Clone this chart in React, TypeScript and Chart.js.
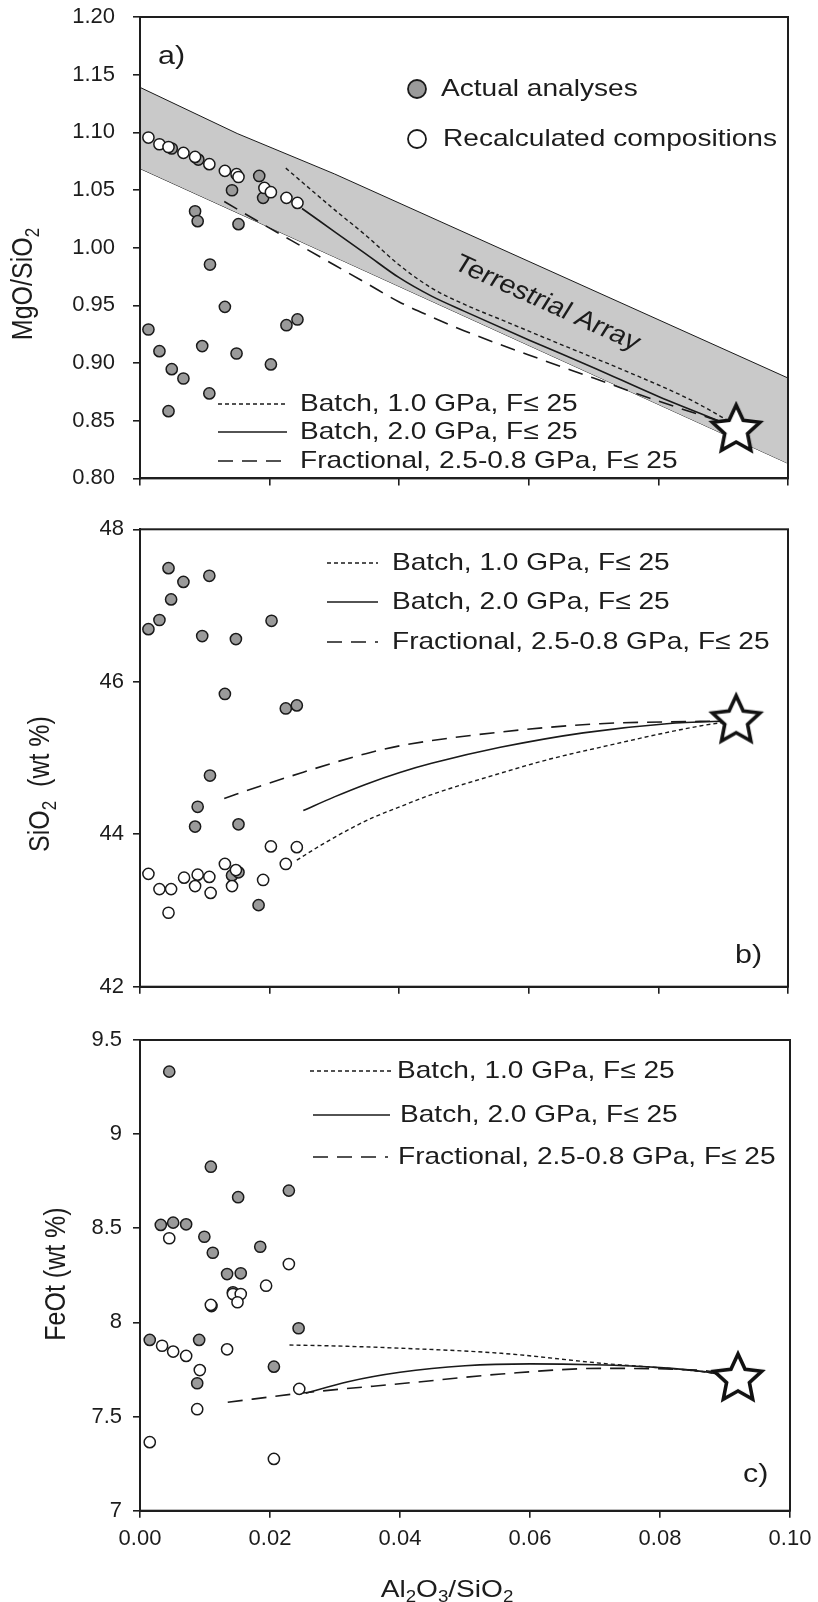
import React, { useEffect, useRef } from "react";
import { Chart, registerables } from "chart.js";

Chart.register(...registerables);

// ---------------- data ----------------
const X_TICKS = [0, 0.02, 0.04, 0.06, 0.08, 0.1];
const STAR_X = [0.092];

// Panel a) MgO/SiO2
const A_Y_TICKS = [0.8, 0.85, 0.9, 0.95, 1.0, 1.05, 1.1, 1.15, 1.2];
const A_ACTUAL_X = [0.009, 0.0049, 0.0142, 0.0184, 0.019, 0.0085, 0.0089, 0.0152, 0.0108, 0.0131, 0.0013, 0.0226, 0.0243, 0.003, 0.0096, 0.0149, 0.0049, 0.0067, 0.0202, 0.0107, 0.0044];
const A_ACTUAL_Y = [1.0764, 1.086, 1.0498, 1.0622, 1.0432, 1.0316, 1.023, 1.0204, 0.9854, 0.9487, 0.9291, 0.9328, 0.9378, 0.9103, 0.9147, 0.9083, 0.8947, 0.8866, 0.8988, 0.8737, 0.8583];
const A_RECALC_X = [0.0013, 0.003, 0.0044, 0.0067, 0.0085, 0.0107, 0.0131, 0.0149, 0.0152, 0.0192, 0.0202, 0.0226, 0.0243];
const A_RECALC_Y = [1.0955, 1.0897, 1.0873, 1.0822, 1.0787, 1.0724, 1.0666, 1.0637, 1.0613, 1.0518, 1.0481, 1.0432, 1.0388];
const A_BATCH1_X = [0.0225, 0.03, 0.035, 0.04, 0.045, 0.05, 0.056, 0.065, 0.075, 0.085, 0.092];
const A_BATCH1_Y = [1.069, 1.033, 1.01, 0.985, 0.965, 0.951, 0.937, 0.916, 0.893, 0.868, 0.846];
const A_BATCH2_X = [0.025, 0.03, 0.035, 0.04, 0.045, 0.05, 0.06, 0.07, 0.08, 0.092];
const A_BATCH2_Y = [1.034, 1.014, 0.994, 0.974, 0.958, 0.945, 0.92, 0.896, 0.871, 0.844];
const A_FRAC_X = [0.013, 0.02, 0.025, 0.03, 0.035, 0.04, 0.045, 0.05, 0.06, 0.07, 0.08, 0.092];
const A_FRAC_Y = [1.04, 1.017, 1.001, 0.985, 0.969, 0.953, 0.94, 0.928, 0.907, 0.887, 0.867, 0.845];
const A_STAR_Y = [0.842];
const ARRAY_X = [0, 0.015, 0.03, 0.1];
const ARRAY_UPPER = [1.139, 1.099, 1.064, 0.887];
const ARRAY_LOWER = [1.0686, 1.0303, 0.992, 0.813];

// Panel b) SiO2
const B_Y_TICKS = [42, 44, 46, 48];
const B_ACTUAL_X = [0.0044, 0.0067, 0.0107, 0.0048, 0.003, 0.0013, 0.0203, 0.0096, 0.0148, 0.0131, 0.0225, 0.0242, 0.0108, 0.0089, 0.0085, 0.0152, 0.0142, 0.0152, 0.0183];
const B_ACTUAL_Y = [47.49, 47.31, 47.39, 47.08, 46.81, 46.69, 46.8, 46.6, 46.56, 45.84, 45.65, 45.69, 44.77, 44.36, 44.1, 44.13, 43.46, 43.5, 43.07];
const B_RECALC_X = [0.0013, 0.003, 0.0048, 0.0044, 0.0068, 0.0089, 0.0085, 0.0107, 0.0109, 0.0131, 0.0142, 0.0148, 0.019, 0.0225, 0.0202, 0.0242];
const B_RECALC_Y = [43.48, 43.28, 43.28, 42.97, 43.43, 43.47, 43.32, 43.44, 43.23, 43.61, 43.32, 43.53, 43.4, 43.61, 43.84, 43.83];
const B_BATCH1_X = [0.0242, 0.028, 0.0324, 0.036, 0.0401, 0.045, 0.0556, 0.063, 0.071, 0.0864, 0.092];
const B_BATCH1_Y = [43.66, 43.86, 44.07, 44.22, 44.36, 44.52, 44.8, 44.98, 45.14, 45.42, 45.49];
const B_BATCH2_X = [0.0252, 0.03, 0.035, 0.0401, 0.045, 0.0556, 0.0684, 0.0813, 0.092];
const B_BATCH2_Y = [44.31, 44.49, 44.66, 44.81, 44.93, 45.14, 45.33, 45.45, 45.49];
const B_FRAC_X = [0.013, 0.0185, 0.0247, 0.03, 0.035, 0.0401, 0.0556, 0.071, 0.0864, 0.092];
const B_FRAC_Y = [44.47, 44.63, 44.8, 44.94, 45.06, 45.16, 45.34, 45.45, 45.48, 45.49];
const B_STAR_Y = [45.49];

// Panel c) FeOt
const C_Y_TICKS = [7, 7.5, 8, 8.5, 9, 9.5];
const C_ACTUAL_X = [0.0045, 0.0109, 0.0151, 0.0229, 0.0032, 0.0051, 0.0071, 0.0099, 0.0112, 0.0185, 0.0134, 0.0155, 0.0143, 0.011, 0.0244, 0.0015, 0.0091, 0.0206, 0.0088];
const C_ACTUAL_Y = [9.332, 8.827, 8.665, 8.7, 8.518, 8.53, 8.521, 8.455, 8.37, 8.402, 8.257, 8.261, 8.16, 8.087, 7.969, 7.907, 7.907, 7.765, 7.677];
const C_RECALC_X = [0.0045, 0.0229, 0.0194, 0.0143, 0.0155, 0.015, 0.0109, 0.0034, 0.0051, 0.0071, 0.0134, 0.0092, 0.0088, 0.0015, 0.0206, 0.0245];
const C_RECALC_Y = [8.447, 8.31, 8.195, 8.151, 8.151, 8.107, 8.093, 7.876, 7.845, 7.822, 7.857, 7.747, 7.539, 7.364, 7.275, 7.647];
const C_BATCH1_X = [0.023, 0.03, 0.0401, 0.0556, 0.071, 0.0864, 0.092];
const C_BATCH1_Y = [7.88, 7.875, 7.863, 7.836, 7.783, 7.739, 7.71];
const C_BATCH2_X = [0.0255, 0.032, 0.04, 0.05, 0.06, 0.07, 0.08, 0.0864, 0.092];
const C_BATCH2_Y = [7.624, 7.685, 7.735, 7.77, 7.78, 7.775, 7.76, 7.74, 7.71];
const C_FRAC_X = [0.0135, 0.025, 0.0417, 0.0556, 0.071, 0.0864, 0.092];
const C_FRAC_Y = [7.576, 7.625, 7.68, 7.726, 7.756, 7.745, 7.71];
const C_STAR_Y = [7.7];

// Text
const LINE_LABELS = ["Batch, 1.0 GPa, F\u2264 25", "Batch, 2.0 GPa, F\u2264 25", "Fractional, 2.5-0.8 GPa, F\u2264 25"];
const POINT_LABELS = ["Actual analyses", "Recalculated compositions"];
const ARRAY_LABEL = "Terrestrial Array";

// ---------------- styling ----------------
const FONT = 'Arial, "Liberation Sans", Helvetica, sans-serif';
const TEXT = "#1c1c1c";
const AXIS = "#1e1e1e";
const EDGE = "#1a1a1a";
const GRAY = "#9a9a9a";
const BAND = "#c9c9c9";
const SX = 1.17;
const DOT = [4, 3];
const DASH = [15, 9];
const LINE_DASHES = [DOT, [], DASH];
const LINE_WIDTHS = [1.4, 1.6, 1.6];
const PR = 5.6;

type Part = { t: string; sub?: boolean };

function zip(xs: number[], ys: number[]) {
  return xs.map((x, i) => ({ x, y: ys[i] }));
}

function drawRich(ctx: any, parts: Part[], x: number, y: number, size: number, align: string, rot = 0) {
  ctx.save();
  ctx.translate(x, y);
  ctx.scale(SX, 1);
  ctx.rotate(rot);
  ctx.fillStyle = TEXT;
  ctx.textBaseline = "middle";
  ctx.textAlign = "left";
  const sub = Math.round(size * 0.68);
  let w = 0;
  for (const p of parts) {
    ctx.font = `${p.sub ? sub : size}px ${FONT}`;
    w += ctx.measureText(p.t).width;
  }
  let cx = align === "center" ? -w / 2 : 0;
  for (const p of parts) {
    ctx.font = `${p.sub ? sub : size}px ${FONT}`;
    ctx.fillText(p.t, cx, p.sub ? size * 0.32 : 0);
    cx += ctx.measureText(p.t).width;
  }
  ctx.restore();
}

function drawLineLegend(ctx: any, rows: number[], x1s: number[], x2s: number[], textXs: number[]) {
  rows.forEach((y, i) => {
    ctx.save();
    ctx.strokeStyle = EDGE;
    ctx.lineWidth = LINE_WIDTHS[i];
    ctx.setLineDash(LINE_DASHES[i]);
    ctx.beginPath();
    ctx.moveTo(x1s[i], y);
    ctx.lineTo(x2s[i], y);
    ctx.stroke();
    ctx.restore();
    drawRich(ctx, [{ t: LINE_LABELS[i] }], textXs[i], y, 24, "left");
  });
}

function makeStar() {
  const R = 25, r = 12, lw = 3.6;
  const s = 64;
  const c = document.createElement("canvas");
  c.width = s;
  c.height = s;
  const g = c.getContext("2d") as CanvasRenderingContext2D;
  g.translate(s / 2, s / 2);
  g.beginPath();
  for (let i = 0; i < 10; i++) {
    const rad = i % 2 === 0 ? R : r;
    const a = -Math.PI / 2 + (i * Math.PI) / 5;
    g.lineTo(rad * Math.cos(a), rad * Math.sin(a));
  }
  g.closePath();
  g.fillStyle = "#ffffff";
  g.fill();
  g.lineWidth = lw;
  g.lineJoin = "miter";
  g.strokeStyle = "#111";
  g.stroke();
  return c;
}

type Panel = {
  key: string;
  top: number;
  height: number;
  padTop: number;
  padBottom: number;
  padRight: number;
  xAxisH: number;
  yMin: number;
  yMax: number;
  yTicks: number[];
  yFmt: (v: number) => string;
  yPad: number;
  showX: boolean;
  actX: number[]; actY: number[];
  recX: number[]; recY: number[];
  b1x: number[]; b1y: number[];
  b2x: number[]; b2y: number[];
  frx: number[]; fry: number[];
  starY: number[];
  band: boolean;
  decor: (ctx: any, chart: any) => void;
};

const PANELS: Panel[] = [
  {
    key: "a", top: 0, height: 505, padTop: 17, padBottom: 6.6, padRight: 30, xAxisH: 20,
    yMin: 0.8, yMax: 1.2, yTicks: A_Y_TICKS, yFmt: (v) => v.toFixed(2), yPad: 18, showX: false,
    actX: A_ACTUAL_X, actY: A_ACTUAL_Y, recX: A_RECALC_X, recY: A_RECALC_Y,
    b1x: A_BATCH1_X, b1y: A_BATCH1_Y, b2x: A_BATCH2_X, b2y: A_BATCH2_Y, frx: A_FRAC_X, fry: A_FRAC_Y,
    starY: A_STAR_Y, band: true,
    decor: (ctx, chart) => {
      const xs = chart.scales.x, ys = chart.scales.y;
      const midY = (i: number) => (ARRAY_UPPER[i] + ARRAY_LOWER[i]) / 2;
      const n = ARRAY_X.length - 1;
      const dx = xs.getPixelForValue(ARRAY_X[n]) - xs.getPixelForValue(ARRAY_X[n - 1]);
      const dy = ys.getPixelForValue(midY(n)) - ys.getPixelForValue(midY(n - 1));
      const theta = Math.atan2(dy, dx);
      const rot = Math.atan(SX * Math.tan(theta));
      drawRich(ctx, [{ t: ARRAY_LABEL }], xs.getPixelForValue(0.0628), ys.getPixelForValue(0.9516), 25, "center", rot);
      drawRich(ctx, [{ t: "a)" }], 158, 57, 26, "left");
      drawRich(ctx, [{ t: "MgO/SiO" }, { t: "2", sub: true }], 24, 284, 25, "center", -Math.PI / 2);
      const pts = [[417, 89, GRAY], [417, 139, "#ffffff"]];
      pts.forEach(([x, y, c]: any, i) => {
        ctx.save();
        ctx.beginPath();
        ctx.arc(x, y, 9, 0, Math.PI * 2);
        ctx.fillStyle = c;
        ctx.fill();
        ctx.lineWidth = 1.8;
        ctx.strokeStyle = EDGE;
        ctx.stroke();
        ctx.restore();
        drawRich(ctx, [{ t: POINT_LABELS[i] }], i === 0 ? 441 : 443, y, 24, "left");
      });
      drawLineLegend(ctx, [404, 432, 461], [218, 218, 218], [287, 287, 287], [300, 300, 300]);
    },
  },
  {
    key: "b", top: 505, height: 510, padTop: 24.3, padBottom: 8.3, padRight: 30, xAxisH: 20,
    yMin: 42, yMax: 48, yTicks: B_Y_TICKS, yFmt: (v) => String(v), yPad: 9, showX: false,
    actX: B_ACTUAL_X, actY: B_ACTUAL_Y, recX: B_RECALC_X, recY: B_RECALC_Y,
    b1x: B_BATCH1_X, b1y: B_BATCH1_Y, b2x: B_BATCH2_X, b2y: B_BATCH2_Y, frx: B_FRAC_X, fry: B_FRAC_Y,
    starY: B_STAR_Y, band: false,
    decor: (ctx) => {
      ctx.save();
      ctx.translate(0, -505);
      drawRich(ctx, [{ t: "b)" }], 735, 956, 26, "left");
      drawRich(ctx, [{ t: "SiO" }, { t: "2", sub: true }, { t: "  (wt %)" }], 41, 784, 25, "center", -Math.PI / 2);
      drawLineLegend(ctx, [563, 602, 642], [327, 327, 327], [378, 378, 378], [392, 392, 392]);
      ctx.restore();
    },
  },
  {
    key: "c", top: 1015, height: 587, padTop: 25, padBottom: 41.3, padRight: 28, xAxisH: 50,
    yMin: 7, yMax: 9.5, yTicks: C_Y_TICKS, yFmt: (v) => String(v), yPad: 11, showX: true,
    actX: C_ACTUAL_X, actY: C_ACTUAL_Y, recX: C_RECALC_X, recY: C_RECALC_Y,
    b1x: C_BATCH1_X, b1y: C_BATCH1_Y, b2x: C_BATCH2_X, b2y: C_BATCH2_Y, frx: C_FRAC_X, fry: C_FRAC_Y,
    starY: C_STAR_Y, band: false,
    decor: (ctx) => {
      ctx.save();
      ctx.translate(0, -1015);
      drawRich(ctx, [{ t: "c)" }], 743, 1475, 26, "left");
      drawRich(ctx, [{ t: "FeOt (wt %)" }], 57, 1274, 25, "center", -Math.PI / 2);
      drawLineLegend(ctx, [1071, 1115, 1157], [310, 313, 313], [393, 390, 388], [397, 400, 398]);
      drawRich(ctx, [{ t: "Al" }, { t: "2", sub: true }, { t: "O" }, { t: "3", sub: true }, { t: "/SiO" }, { t: "2", sub: true }], 447, 1590, 24, "center");
      ctx.restore();
    },
  },
];

function lineDs(xs: number[], ys: number[], dash: number[], w: number, order: number) {
  return {
    type: "line",
    data: zip(xs, ys),
    borderColor: EDGE,
    borderWidth: w,
    borderDash: dash,
    pointRadius: 0,
    fill: false,
    cubicInterpolationMode: "monotone",
    order,
  };
}

function buildConfig(p: Panel, star: HTMLCanvasElement): any {
  const datasets: any[] = [
    { type: "scatter", data: zip(STAR_X, p.starY), pointStyle: star, pointRadius: 5, order: 0 },
    {
      type: "scatter", data: zip(p.recX, p.recY), pointStyle: "circle", pointRadius: PR,
      backgroundColor: "#ffffff", borderColor: EDGE, borderWidth: 1.5, order: 1,
    },
    {
      type: "scatter", data: zip(p.actX, p.actY), pointStyle: "circle", pointRadius: PR,
      backgroundColor: GRAY, borderColor: EDGE, borderWidth: 1.5, order: 2,
    },
    lineDs(p.b1x, p.b1y, DOT, LINE_WIDTHS[0], 3),
    lineDs(p.b2x, p.b2y, [], LINE_WIDTHS[1], 4),
    lineDs(p.frx, p.fry, DASH, LINE_WIDTHS[2], 5),
  ];
  if (p.band) {
    datasets.push({
      type: "line", data: zip(ARRAY_X, ARRAY_UPPER), borderColor: EDGE, borderWidth: 1,
      backgroundColor: BAND, pointRadius: 0, fill: "+1", tension: 0, order: 6,
    });
    datasets.push({
      type: "line", data: zip(ARRAY_X, ARRAY_LOWER), borderColor: EDGE, borderWidth: 1,
      backgroundColor: BAND, pointRadius: 0, fill: false, tension: 0, order: 7,
    });
  }
  const decorPlugin = {
    id: "decor" + p.key,
    afterDraw(chart: any) {
      const ctx = chart.ctx;
      const a = chart.chartArea;
      ctx.save();
      ctx.strokeStyle = AXIS;
      ctx.lineWidth = 2;
      ctx.strokeRect(a.left, a.top, a.right - a.left, a.bottom - a.top);
      ctx.restore();
      p.decor(ctx, chart);
    },
  };
  return {
    type: "scatter",
    data: { datasets },
    options: {
      animation: false,
      responsive: false,
      maintainAspectRatio: false,
      events: [],
      layout: { padding: { left: 0, right: p.padRight, top: p.padTop, bottom: p.padBottom } },
      plugins: { legend: { display: false }, tooltip: { enabled: false } },
      scales: {
        x: {
          type: "linear", min: 0, max: 0.1,
          afterBuildTicks: (s: any) => { s.ticks = X_TICKS.map((v) => ({ value: v })); },
          afterFit: (s: any) => { s.height = p.xAxisH; s.paddingLeft = 0; s.paddingRight = 0; },
          grid: { drawOnChartArea: false, drawTicks: true, tickLength: 7, color: AXIS, lineWidth: 1.6 },
          border: { display: true, color: AXIS, width: 2 },
          ticks: {
            display: p.showX, color: TEXT, font: { family: FONT, size: 22 }, padding: 8,
            maxRotation: 0, autoSkip: false, callback: (v: any) => Number(v).toFixed(2),
          },
        },
        y: {
          type: "linear", min: p.yMin, max: p.yMax,
          afterBuildTicks: (s: any) => { s.ticks = p.yTicks.map((v) => ({ value: v })); },
          afterFit: (s: any) => { s.width = 140; s.paddingTop = 0; s.paddingBottom = 0; },
          grid: { drawOnChartArea: false, drawTicks: true, tickLength: 7, color: AXIS, lineWidth: 1.6 },
          border: { display: true, color: AXIS, width: 2 },
          ticks: {
            color: TEXT, font: { family: FONT, size: 22 }, padding: p.yPad, autoSkip: false,
            callback: (v: any) => p.yFmt(Number(v)),
          },
        },
      },
    },
    plugins: [decorPlugin],
  };
}

function PanelChart({ spec }: { spec: Panel }) {
  const ref = useRef<HTMLCanvasElement>(null);
  useEffect(() => {
    const star = makeStar();
    const chart = new Chart(ref.current as HTMLCanvasElement, buildConfig(spec, star));
    return () => chart.destroy();
  }, [spec]);
  return (
    <canvas
      ref={ref}
      width={818}
      height={spec.height}
      style={{ position: "absolute", left: 0, top: spec.top, width: 818, height: spec.height }}
    />
  );
}

export default function App() {
  return (
    <div style={{ position: "absolute", left: 0, top: 0, width: 818, height: 1602, background: "#ffffff", overflow: "hidden" }}>
      {PANELS.map((p) => (
        <PanelChart key={p.key} spec={p} />
      ))}
    </div>
  );
}
